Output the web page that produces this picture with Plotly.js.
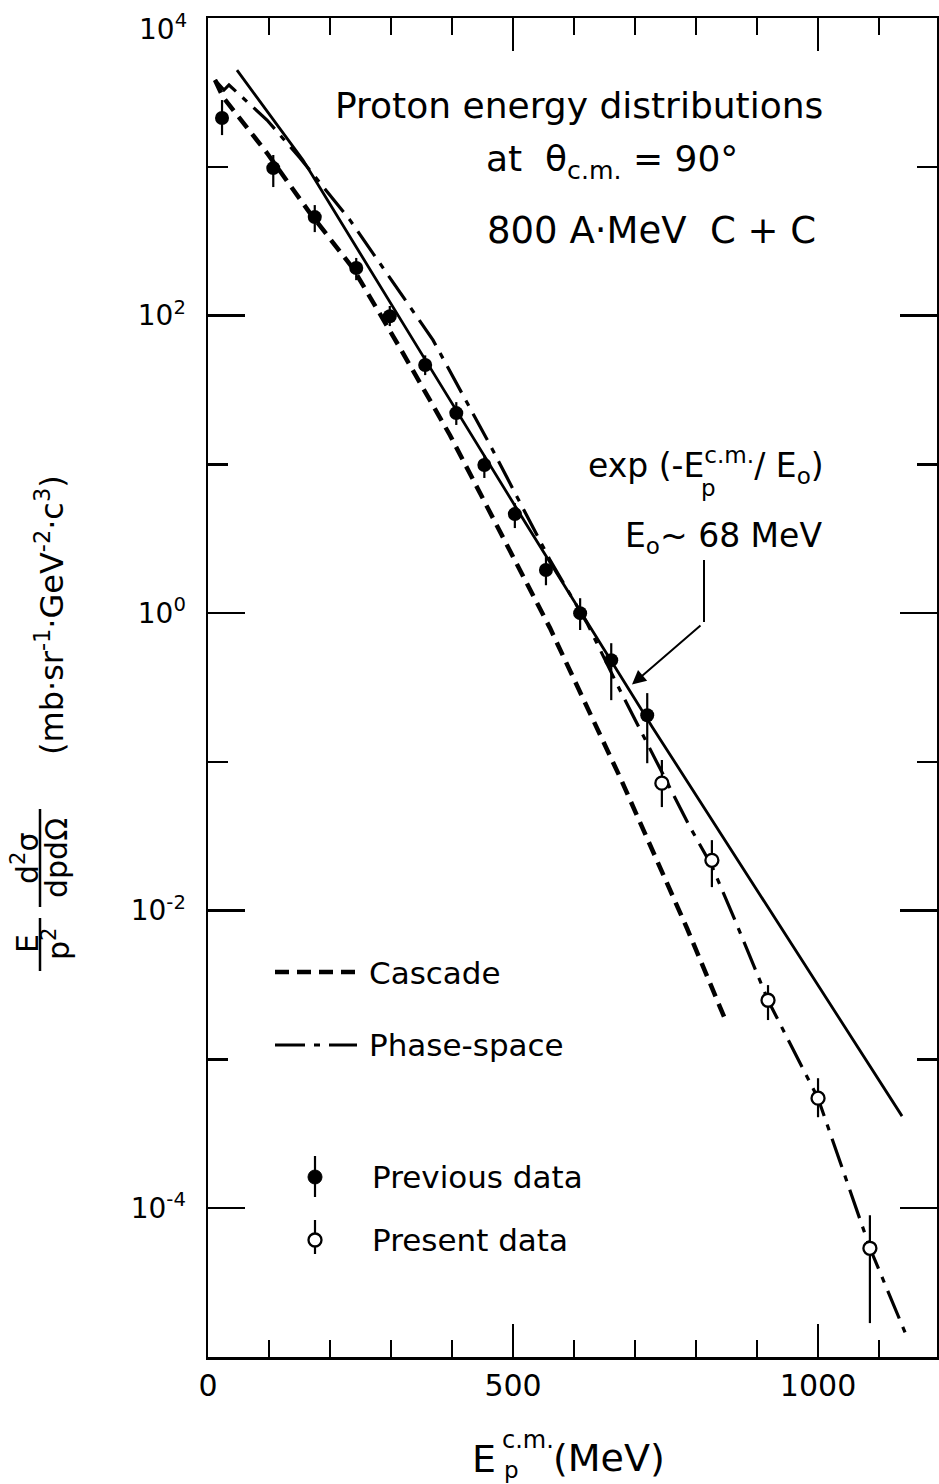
<!DOCTYPE html>
<html>
<head>
<meta charset="utf-8">
<script src="https://cdn.plot.ly/plotly-3.0.1.min.js"></script>
<style>
html,body{margin:0;padding:0;background:#fff;}
#chart{width:939px;height:1484px;}
</style>
</head>
<body>
<div id="chart"></div>
<script>
// ---------- data ----------
const seriesNames = ['Cascade', 'Phase-space', 'Previous data', 'Present data'];

// Previous data (filled circles): E_p^cm (MeV), value, upper / lower end of error bar
const prevE  = [23, 107, 175, 243, 298, 356, 407, 453, 503, 554, 610, 661, 720];
const prevY  = [2130, 980, 459, 209, 99, 46.5, 22.1, 9.9, 4.63, 1.95, 1.0, 0.483, 0.206];
const prevHi = [2810, 1200, 553, 244, 116, 54, 26.2, 11.5, 5.49, 2.38, 1.26, 0.628, 0.29];
const prevLo = [1634, 731, 364, 173, 85, 39.8, 18.4, 8.1, 3.73, 1.54, 0.77, 0.26, 0.098];

// Present data (open circles)
const presE  = [744, 826, 918, 1000, 1085];
const presY  = [0.072, 0.0218, 0.0025, 5.49e-4, 5.38e-5];
const presHi = [0.103, 0.0298, 0.00316, 7.48e-4, 8.97e-5];
const presLo = [0.0497, 0.0144, 0.00184, 4.09e-4, 1.69e-5];

// Cascade calculation (dashed)
const cascadeE = [11.5, 24.6, 96.7, 167.2, 237.7, 314.8, 396.7, 478.7, 560.7, 675.4, 785.2, 847.5];
const cascadeY = [3830, 2945, 1237, 489, 208, 60.5, 15.7, 3.56, 0.793, 0.0789, 0.00762, 0.00187];

// Phase-space calculation (dash-dot)
const phaseE = [11.5, 26.2, 34.4, 96.7, 150.8, 232.8, 368.9, 462.3, 560.7, 621.3, 675.4, 727.9, 790.2, 826.2, 867.2, 918, 1000, 1085.2, 1145.9];
const phaseY = [3830, 3281, 3548, 2063, 1146, 438, 68.4, 13.5, 2.27, 0.857, 0.303, 0.1146, 0.0364, 0.0199, 0.0080, 0.0025, 5.48e-4, 5.38e-5, 1.36e-5];

// exp(-E/E0) fit, E0 ~ 68 MeV (solid)
const expE = [47.5, 155.7, 347.5, 524.6, 729.5, 942.6, 1137.7];
const expY = [4467, 1110, 57.7, 3.79, 0.1686, 0.00728, 4.16e-4];

// axes
const xTickVals = [0, 500, 1000];
const xTickText = ['0', '500', '1000'];
const xMinorVals = [100, 200, 300, 400, 600, 700, 800, 900, 1100];
const yTickVals = [1e-4, 1e-2, 1, 1e2, 1e4];
const yTickText = ['10<sup>-4</sup>', '10<sup>-2</sup>', '10<sup>0</sup>', '10<sup>2</sup>', '10<sup>4</sup>'];
const yMinorVals = [1e-3, 1e-1, 10, 1e3];

// ---------- geometry ----------
const W = 939, H = 1484, ML = 208, MR = 2, MT = 18, MB = 127;
const PW = W - ML - MR, PH = H - MT - MB;
const px = v => (v - ML) / PW;          // pixel x -> paper x
const py = v => (H - MB - v) / PH;      // pixel y -> paper y

const FONT = 'DejaVu Sans';
const INK = '#000';

const cascadeDash = '14px,8px';
const phaseDash = '30px,9px,6px,9px';

const traces = [
  {x: cascadeE, y: cascadeY, name: seriesNames[0], mode: 'lines',
   line: {color: INK, width: 4.5, dash: cascadeDash}},
  {x: phaseE, y: phaseY, name: seriesNames[1], mode: 'lines',
   line: {color: INK, width: 3.2, dash: phaseDash}},
  {x: expE, y: expY, name: 'exp fit', mode: 'lines',
   line: {color: INK, width: 2.8}},
  {x: prevE, y: prevY, name: seriesNames[2], mode: 'markers',
   marker: {symbol: 'circle', size: 14, color: INK},
   error_y: {type: 'data', symmetric: false,
     array: prevHi.map((h, i) => h - prevY[i]),
     arrayminus: prevLo.map((l, i) => prevY[i] - l),
     thickness: 2.2, width: 0, color: INK}},
  {x: presE, y: presY, name: seriesNames[3], mode: 'markers',
   marker: {symbol: 'circle', size: 13, color: '#fff', line: {color: INK, width: 2.3}},
   error_y: {type: 'data', symmetric: false,
     array: presHi.map((h, i) => h - presY[i]),
     arrayminus: presLo.map((l, i) => presY[i] - l),
     thickness: 2.2, width: 0, color: INK}}
];

function txt(text, x, y, size, opts) {
  return Object.assign({text: text, xref: 'paper', yref: 'paper', x: px(x), y: py(y),
    xanchor: 'center', yanchor: 'middle', showarrow: false,
    font: {family: FONT, size: size, color: INK}}, opts || {});
}
function seg(x0, y0, x1, y1, w, dash) {
  return {type: 'line', xref: 'paper', yref: 'paper', x0: px(x0), y0: py(y0), x1: px(x1), y1: py(y1),
    line: {color: INK, width: w, dash: dash || 'solid'}};
}

// the top decade label sits a little below its tick so it stays inside the page
const yAxisText = yTickText.slice(0, 4).concat(['']);

const annotations = [
  txt(yTickText[4], 189, 27, 28, {xanchor: 'right'}),
  txt('Proton energy distributions', 579, 105, 36),
  txt('at  θ<sub>c.m.</sub> = 90°', 612, 162, 36),
  txt('800 A·MeV  C + C', 651, 230, 37),
  txt('exp (-E<sup>c.m.</sup>/ E<sub>o</sub>)', 706, 466, 33),
  txt('p', 708, 488, 23),
  txt('E<sub>o</sub>~ 68 MeV', 723, 537, 33),
  // arrow to the exp line
  {x: 695, y: -0.48, xref: 'x', yref: 'y', ax: 72, ay: -62, axref: 'pixel', ayref: 'pixel',
   showarrow: true, arrowhead: 2, arrowsize: 1.4, arrowwidth: 2, arrowcolor: INK, text: ' '},
  // legend labels
  txt(seriesNames[0], 367, 973, 31, {xanchor: 'left'}),
  txt(seriesNames[1], 367, 1045, 31, {xanchor: 'left'}),
  txt(seriesNames[2], 370, 1177, 31, {xanchor: 'left'}),
  txt(seriesNames[3], 370, 1240, 31, {xanchor: 'left'}),
  // x title: E, superscript c.m., subscript p, (MeV)
  txt('E', 498, 1459, 38, {xanchor: 'right'}),
  txt('c.m.', 500, 1440, 24, {xanchor: 'left'}),
  txt('p', 502, 1470, 23, {xanchor: 'left'}),
  txt('(MeV)', 551, 1458, 38, {xanchor: 'left'}),
  // y title (rotated)
  txt('E', 27, 944, 30, {textangle: -90}),
  txt('p<sup>2</sup>', 56, 944, 30, {textangle: -90}),
  txt('d<sup>2</sup>σ', 25, 858, 30, {textangle: -90}),
  txt('dpdΩ', 56, 858, 30, {textangle: -90}),
  txt('(mb·sr<sup>-1</sup>·GeV<sup>-2</sup>·c<sup>3</sup>)', 50, 615, 32, {textangle: -90})
];

const shapes = [
  // arrow vertical part
  seg(704, 560, 704, 622, 2),
  // fraction bars
  seg(40, 918, 40, 971, 2.5),
  seg(40, 809, 40, 907, 2.5),
  // legend lines
  seg(275, 972, 357, 972, 4.5, cascadeDash),
  seg(275, 1045, 357, 1045, 3.2, phaseDash),
  // legend markers with error bars
  seg(315, 1156, 315, 1197, 2.2),
  {type: 'circle', xref: 'paper', yref: 'paper', xsizemode: 'pixel', ysizemode: 'pixel',
   xanchor: px(315), yanchor: py(1177), x0: -7, x1: 7, y0: -7, y1: 7,
   fillcolor: INK, line: {color: INK, width: 1}},
  seg(315, 1220, 315, 1254, 2.2),
  {type: 'circle', xref: 'paper', yref: 'paper', xsizemode: 'pixel', ysizemode: 'pixel',
   xanchor: px(315), yanchor: py(1240), x0: -6.5, x1: 6.5, y0: -6.5, y1: 6.5,
   fillcolor: '#fff', line: {color: INK, width: 2.3}}
];

const layout = {
  width: W, height: H,
  margin: {l: ML, r: MR, t: MT, b: MB, pad: 0},
  paper_bgcolor: '#fff', plot_bgcolor: '#fff',
  showlegend: false,
  font: {family: FONT, color: INK},
  xaxis: {
    range: [0, 1195], showgrid: false, zeroline: false,
    showline: true, linecolor: INK, linewidth: 2.5, mirror: 'allticks',
    ticks: 'inside', ticklen: 33, tickwidth: 2.5, tickcolor: INK,
    tickmode: 'array', tickvals: xTickVals, ticktext: xTickText,
    tickfont: {family: FONT, size: 30, color: INK},
    ticklabeloverflow: 'allow',
    minor: {tickmode: 'array', tickvals: xMinorVals, ticks: 'inside', ticklen: 17, tickwidth: 2.5, tickcolor: INK, showgrid: false}
  },
  yaxis: {
    type: 'log', range: [-5, 4.0002], showgrid: false, zeroline: false,
    showline: true, linecolor: INK, linewidth: 2.5, mirror: 'allticks',
    ticks: 'inside', ticklen: 37, tickwidth: 2.5, tickcolor: INK,
    tickmode: 'array', tickvals: yTickVals, ticktext: yAxisText,
    tickfont: {family: FONT, size: 28, color: INK},
    ticklabelstandoff: 14, ticklabeloverflow: 'allow',
    minor: {tickmode: 'array', tickvals: yMinorVals, ticks: 'inside', ticklen: 20, tickwidth: 2.5, tickcolor: INK, showgrid: false}
  },
  annotations: annotations,
  shapes: shapes
};

Plotly.newPlot('chart', traces, layout, {displayModeBar: false, staticPlot: true});
</script>
</body>
</html>
